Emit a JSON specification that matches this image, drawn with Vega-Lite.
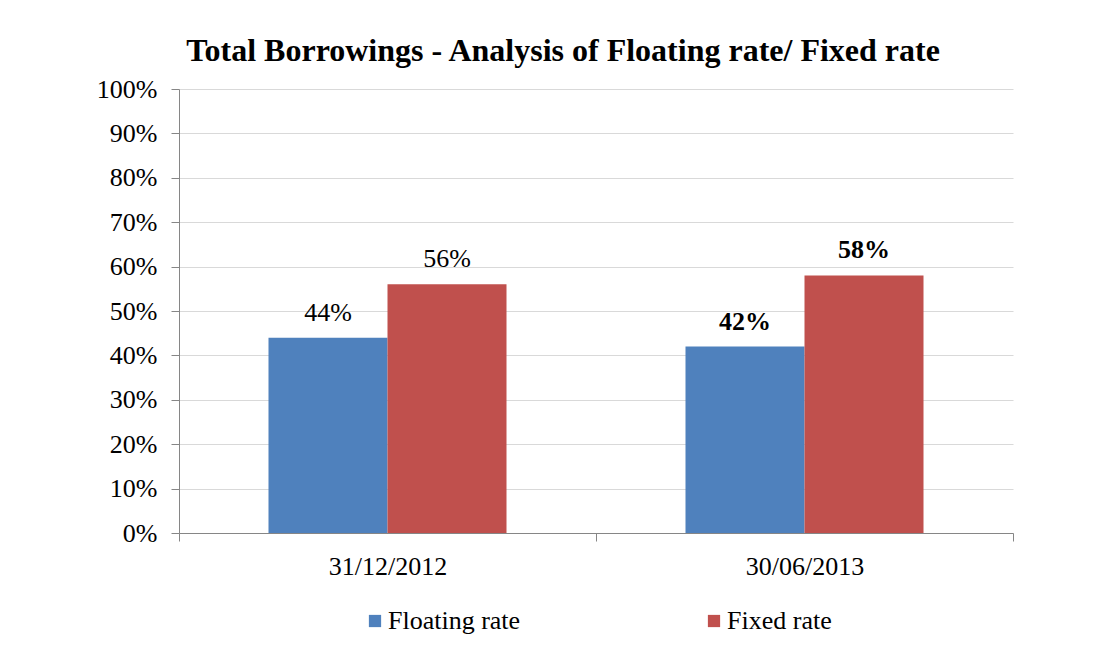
{
  "$schema": "https://vega.github.io/schema/vega-lite/v6.json",
  "autosize": "none",
  "width": 834,
  "height": 444,
  "padding": {"left": 179, "top": 89, "right": 91, "bottom": 117},
  "background": "white",
  "config": {
    "font": "Liberation Serif",
    "view": {"stroke": null}
  },
  "title": {
    "text": "Total Borrowings - Analysis of Floating rate/ Fixed rate",
    "font": "Liberation Serif",
    "fontSize": 32,
    "fontWeight": "bold",
    "color": "#000000",
    "anchor": "middle",
    "dx": -33,
    "dy": 46,
    "baseline": "alphabetic",
    "offset": 29
  },
  "data": {
    "values": [
      {"date": "31/12/2012", "type": "Floating rate", "value": 0.44},
      {"date": "31/12/2012", "type": "Fixed rate", "value": 0.56},
      {"date": "30/06/2013", "type": "Floating rate", "value": 0.42},
      {"date": "30/06/2013", "type": "Fixed rate", "value": 0.58}
    ]
  },
  "encoding": {
    "x": {
      "field": "date",
      "type": "nominal",
      "sort": null,
      "scale": {"paddingInner": 0, "paddingOuter": 0},
      "axis": {
        "title": null,
        "labelAngle": 0,
        "labelFont": "Liberation Serif",
        "labelFontSize": 26,
        "labelColor": "#000000",
        "labelBaseline": "alphabetic",
        "labelPadding": 33,
        "tickBand": "extent",
        "tickSize": 8,
        "tickColor": "#868686",
        "domainColor": "#868686",
        "grid": false
      }
    },
    "xOffset": {
      "field": "type",
      "type": "nominal",
      "sort": ["Floating rate", "Fixed rate"],
      "scale": {"paddingInner": 0, "paddingOuter": 0.752}
    },
    "y": {
      "field": "value",
      "type": "quantitative",
      "scale": {"domain": [0, 1], "nice": false},
      "axis": {
        "title": null,
        "values": [0, 0.1, 0.2, 0.3, 0.4, 0.5, 0.6, 0.7, 0.8, 0.9, 1],
        "format": ".0%",
        "labelFont": "Liberation Serif",
        "labelFontSize": 26,
        "labelColor": "#000000",
        "labelPadding": 14,
        "tickSize": 8,
        "tickColor": "#868686",
        "domainColor": "#868686",
        "gridColor": "#d9d9d9",
        "gridWidth": 1
      }
    }
  },
  "layer": [
    {
      "mark": {"type": "bar"},
      "encoding": {
        "color": {
          "field": "type",
          "type": "nominal",
          "scale": {"domain": ["Floating rate", "Fixed rate"], "range": ["#4F81BD", "#C0504D"]},
          "legend": {
            "title": null,
            "orient": "none",
            "direction": "horizontal",
            "legendX": 183,
            "legendY": 519,
            "symbolType": "square",
            "symbolSize": 150,
            "symbolStrokeWidth": 0,
            "labelFont": "Liberation Serif",
            "labelFontSize": 26,
            "labelColor": "#000000",
            "labelOffset": 0,
            "columnPadding": 180,
            "labelLimit": 400
          }
        }
      }
    },
    {
      "transform": [{"filter": "datum.date === '31/12/2012'"}],
      "mark": {"type": "text", "baseline": "alphabetic", "dy": -17, "fontSize": 26, "font": "Liberation Serif", "color": "#000000"},
      "encoding": {
        "text": {"field": "value", "type": "quantitative", "format": ".0%"}
      }
    },
    {
      "transform": [{"filter": "datum.date === '30/06/2013'"}],
      "mark": {"type": "text", "baseline": "alphabetic", "dy": -17, "fontSize": 26, "fontWeight": "bold", "font": "Liberation Serif", "color": "#000000"},
      "encoding": {
        "text": {"field": "value", "type": "quantitative", "format": ".0%"}
      }
    }
  ]
}
